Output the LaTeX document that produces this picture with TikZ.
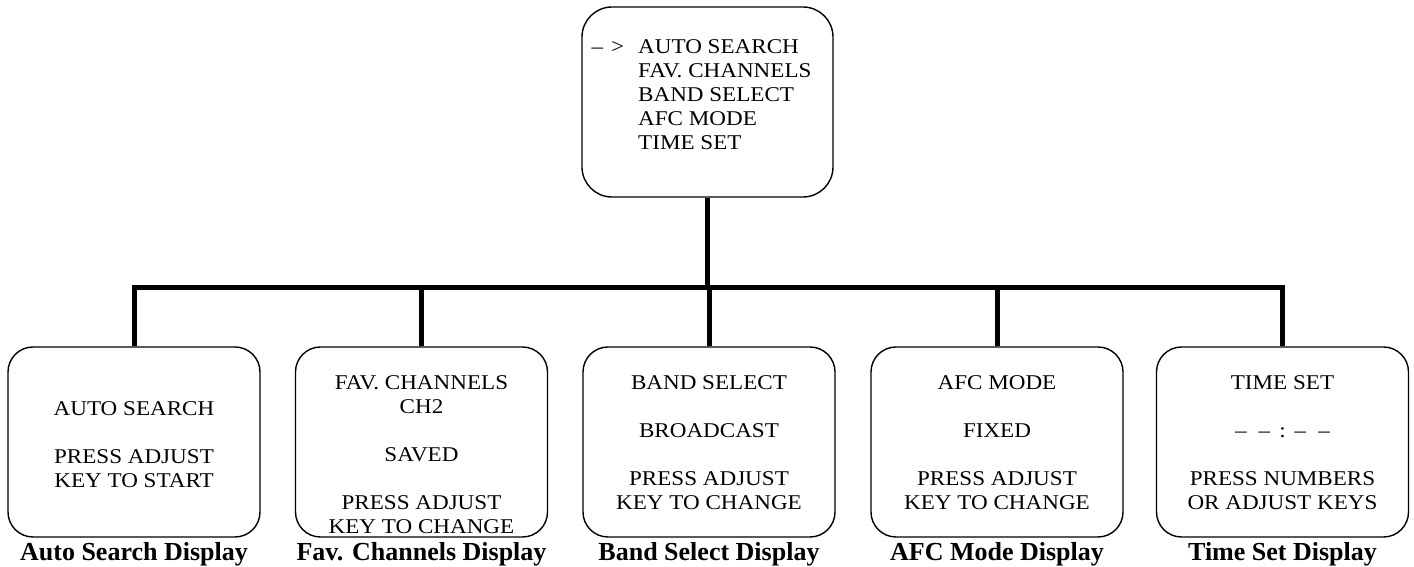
\documentclass[tikz,border=0pt]{standalone}
\usepackage{fontspec}
\setmainfont{Liberation Serif}
\newfontfamily\bodyfont{Liberation Serif}[FakeStretch=1.1,Ligatures=TeX]
\begin{document}
\begin{tikzpicture}[x=1pt,y=1pt,
  box/.style={draw, line width=1.4pt, rounded corners=25pt, minimum width=252pt, minimum height=190pt, inner sep=0pt},
  topbox/.style={box, rounded corners=30pt, minimum width=251pt},
  txt/.style={font=\bodyfont\fontsize{21}{24}\selectfont, align=center, inner sep=0pt, anchor=north},
  lbl/.style={font=\fontsize{26}{30}\selectfont\bfseries, inner sep=0pt, anchor=base},
  bus/.style={line width=5pt}]
\useasboundingbox (0,0) rectangle (1414,567);
% boxes
\node[topbox] (top) at (707.5,465) {};
\node[box] (b1) at (134,125) {};
\node[box] (b2) at (421.5,125) {};
\node[box] (b3) at (709,125) {};
\node[box] (b4) at (997,125) {};
\node[box] (b5) at (1282.5,125) {};
% texts
\node[txt, anchor=north west, align=left] (toptxt) at (638,528)
  {\llap{--\hspace{8pt}>\hspace{14pt}}AUTO SEARCH\\FAV. CHANNELS\\BAND SELECT\\AFC MODE\\TIME SET};
\node[txt] (t1) at (134,166) {AUTO SEARCH\\[24pt]PRESS ADJUST\\KEY TO START};
\node[txt] (t2) at (421.5,192) {FAV. CHANNELS\\CH2\\[24pt]SAVED\\[24pt]PRESS ADJUST\\KEY TO CHANGE};
\node[txt] (t3) at (709,192) {BAND SELECT\\[24pt]BROADCAST\\[24pt]PRESS ADJUST\\KEY TO CHANGE};
\node[txt] (t4) at (997,192) {AFC MODE\\[24pt]FIXED\\[24pt]PRESS ADJUST\\KEY TO CHANGE};
\node[txt] (t5) at (1282.5,192) {TIME SET\\[24pt]--\hspace{12pt}--\hspace{9pt}:\hspace{9pt}--\hspace{12pt}--\\[24pt]PRESS NUMBERS\\OR ADJUST KEYS};
% labels
\node[lbl] (l1) at (134,6) {Auto Search Display};
\node[lbl] (l2) at (421.5,6) {Fav. Channels Display};
\node[lbl] (l3) at (709,6) {Band Select Display};
\node[lbl] (l4) at (997,6) {AFC Mode Display};
\node[lbl] (l5) at (1282.5,6) {Time Set Display};
% connectors
\coordinate (bus) at (707.5,279);
\draw[bus] (top.south) -- (bus);
\draw[bus] (b1.north) -- (b1.north |- bus) -- (b5.north |- bus) -- (b5.north);
\foreach \i in {2,3,4} \draw[bus] (b\i.north) -- (b\i.north |- bus);
\end{tikzpicture}
\end{document}
